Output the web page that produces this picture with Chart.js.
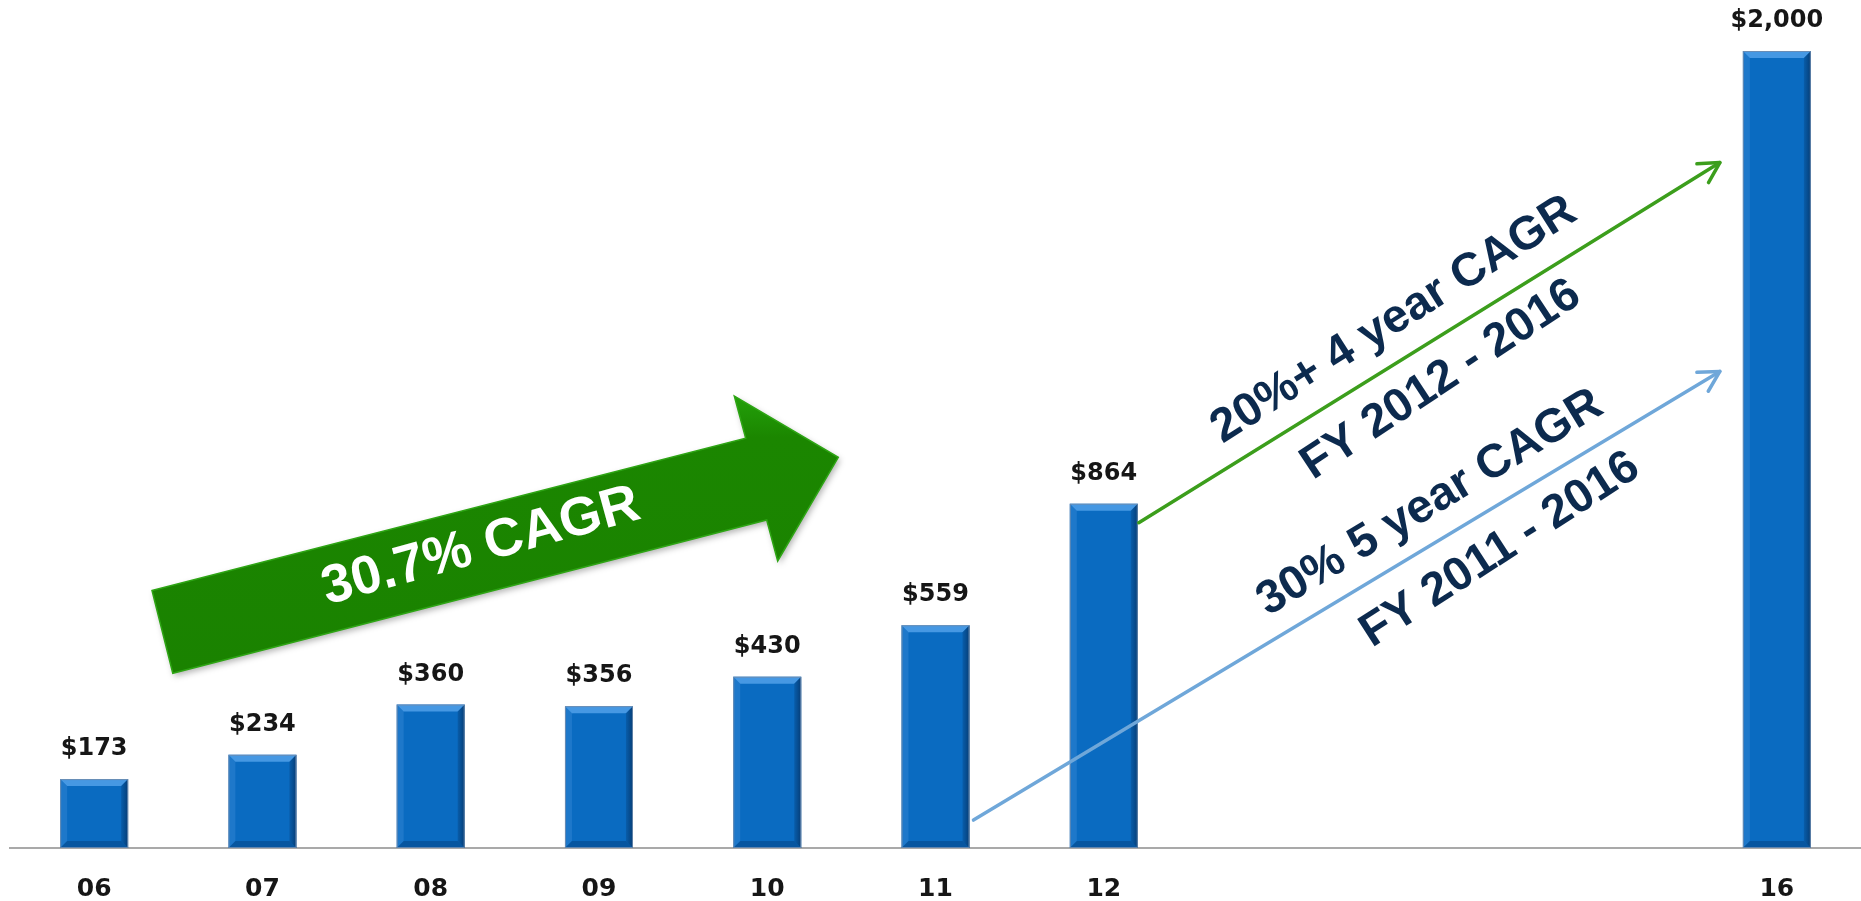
<!DOCTYPE html>
<html>
<head>
<meta charset="utf-8">
<script src="https://cdn.jsdelivr.net/npm/chart.js@4.4.1/dist/chart.umd.min.js"></script>
<style>
  html, body { margin: 0; padding: 0; background: #fff; }
  #wrap { width: 1861px; height: 901px; position: relative; }
</style>
</head>
<body>
<div id="wrap"><canvas id="myChart"></canvas></div>
<script>
// fiscal years, 13-15 left empty as in the original slide
var years = ["06", "07", "08", "09", "10", "11", "12", "", "", "", "16"];
var revenue = [173, 234, 360, 356, 430, 559, 864, null, null, null, 2000];
var yMax = 2000;

var bigArrowText = "30.7% CAGR";
var growthNotes = [
  { text: "20%+ 4 year CAGR", x: 1394, y: 320, angle: -32.3 },
  { text: "FY 2012 - 2016", x: 1441, y: 380, angle: -33.5 },
  { text: "30% 5 year CAGR", x: 1430, y: 503, angle: -31.2 },
  { text: "FY 2011 - 2016", x: 1500, y: 550, angle: -32.8 }
];

function money(v) {
  return "$" + v.toLocaleString("en-US");
}

// bevel look on the bars + value labels above them
var barDecor = {
  id: "barDecor",
  afterDatasetsDraw: function (chart) {
    var ctx = chart.ctx;
    var meta = chart.getDatasetMeta(0);
    meta.data.forEach(function (bar, i) {
      var v = revenue[i];
      if (v == null) return;
      var l = bar.x - bar.width / 2, r = bar.x + bar.width / 2;
      var t = bar.y, b = bar.base, e = 7;
      ctx.save();
      // top
      ctx.fillStyle = "rgba(120,190,255,0.55)";
      ctx.beginPath();
      ctx.moveTo(l, t); ctx.lineTo(r, t); ctx.lineTo(r - e, t + e); ctx.lineTo(l + e, t + e);
      ctx.closePath(); ctx.fill();
      // left
      ctx.fillStyle = "rgba(90,160,230,0.25)";
      ctx.beginPath();
      ctx.moveTo(l, t); ctx.lineTo(l + e, t + e); ctx.lineTo(l + e, b - e); ctx.lineTo(l, b);
      ctx.closePath(); ctx.fill();
      // right
      var g = ctx.createLinearGradient(r - e, 0, r, 0);
      g.addColorStop(0, "rgba(3,50,100,0.25)");
      g.addColorStop(1, "rgba(3,40,85,0.7)");
      ctx.fillStyle = g;
      ctx.beginPath();
      ctx.moveTo(r, t); ctx.lineTo(r, b); ctx.lineTo(r - e, b - e); ctx.lineTo(r - e, t + e);
      ctx.closePath(); ctx.fill();
      // bottom
      ctx.fillStyle = "rgba(3,50,100,0.35)";
      ctx.beginPath();
      ctx.moveTo(l, b); ctx.lineTo(r, b); ctx.lineTo(r - e, b - e); ctx.lineTo(l + e, b - e);
      ctx.closePath(); ctx.fill();
      ctx.strokeStyle = "rgba(110,140,175,0.9)";
      ctx.lineWidth = 1;
      ctx.strokeRect(l + 0.5, t + 0.5, bar.width - 1, b - t - 1);

      ctx.fillStyle = "#161616";
      ctx.font = "bold 24px 'DejaVu Sans'";
      ctx.textAlign = "center";
      ctx.textBaseline = "alphabetic";
      ctx.fillText(money(v), bar.x, t - 24);
      ctx.restore();
    });
  }
};

function lineArrow(ctx, x1, y1, x2, y2, color) {
  var a = Math.atan2(y2 - y1, x2 - x1);
  ctx.save();
  ctx.strokeStyle = color;
  ctx.lineWidth = 3.5;
  ctx.lineCap = "round";
  ctx.lineJoin = "round";
  ctx.beginPath();
  ctx.moveTo(x1, y1);
  ctx.lineTo(x2, y2);
  ctx.stroke();
  ctx.beginPath();
  ctx.moveTo(x2 - 23 * Math.cos(a - 0.5), y2 - 23 * Math.sin(a - 0.5));
  ctx.lineTo(x2, y2);
  ctx.lineTo(x2 - 23 * Math.cos(a + 0.5), y2 - 23 * Math.sin(a + 0.5));
  ctx.stroke();
  ctx.restore();
}

var notes = {
  id: "notes",
  afterDraw: function (chart) {
    var ctx = chart.ctx;
    var meta = chart.getDatasetMeta(0);
    var ys = chart.scales.y;

    // big green arrow
    ctx.save();
    ctx.shadowColor = "rgba(0,0,0,0.3)";
    ctx.shadowBlur = 6;
    ctx.shadowOffsetX = 2;
    ctx.shadowOffsetY = 3;
    var grd = ctx.createLinearGradient(0, 396, 0, 673);
    grd.addColorStop(0, "#23a00a");
    grd.addColorStop(0.15, "#1b8600");
    grd.addColorStop(1, "#1a8200");
    ctx.fillStyle = grd;
    ctx.beginPath();
    ctx.moveTo(152, 590.5);
    ctx.lineTo(745.7, 438.3);
    ctx.lineTo(734.3, 396);
    ctx.lineTo(838.3, 457.3);
    ctx.lineTo(777.7, 561);
    ctx.lineTo(766.7, 520);
    ctx.lineTo(172.8, 673.3);
    ctx.closePath();
    ctx.fill();
    ctx.shadowColor = "transparent";
    ctx.strokeStyle = "#2ea514";
    ctx.lineWidth = 1.5;
    ctx.stroke();
    ctx.restore();

    ctx.save();
    ctx.translate(481, 547);
    ctx.rotate(-15.3 * Math.PI / 180);
    ctx.fillStyle = "#ffffff";
    ctx.font = "bold 54px 'Liberation Sans'";
    ctx.textAlign = "center";
    ctx.textBaseline = "middle";
    ctx.fillText(bigArrowText, 0, 0);
    ctx.restore();

    // thin growth arrows towards FY16
    var b12 = meta.data[6], b11 = meta.data[5], b16 = meta.data[10];
    var tipX = b16.x - b16.width / 2 - 23;
    lineArrow(ctx, b12.x + b12.width / 2 + 1, b12.y + 19, tipX, ys.getPixelForValue(1720), "#3c9e1c");
    lineArrow(ctx, b11.x + b11.width / 2 + 4, ys.getPixelForValue(70), tipX, ys.getPixelForValue(1196), "#6fa7d9");

    ctx.save();
    ctx.fillStyle = "#0c2a4e";
    ctx.font = "bold 47px 'Liberation Sans'";
    ctx.textAlign = "center";
    ctx.textBaseline = "middle";
    growthNotes.forEach(function (n) {
      ctx.save();
      ctx.translate(n.x, n.y);
      ctx.rotate(n.angle * Math.PI / 180);
      ctx.fillText(n.text, 0, 0);
      ctx.restore();
    });
    ctx.restore();
  }
};

new Chart("myChart", {
  type: "bar",
  data: {
    labels: years,
    datasets: [{
      data: revenue,
      backgroundColor: "#0a6bc1",
      borderWidth: 0,
      barPercentage: 0.404,
      categoryPercentage: 1
    }]
  },
  options: {
    responsive: true,
    maintainAspectRatio: false,
    animation: false,
    layout: { padding: { top: 51, left: 10, right: 0, bottom: -29 } },
    plugins: {
      legend: { display: false },
      tooltip: { enabled: false }
    },
    scales: {
      x: {
        offset: true,
        grid: { display: false, drawTicks: false },
        border: { display: true, color: "#a9a9a9", width: 2 },
        ticks: {
          color: "#161616",
          padding: 28,
          font: { family: "'DejaVu Sans'", weight: "bold", size: 25, lineHeight: 1.04 }
        }
      },
      y: {
        display: false,
        min: 0,
        max: yMax
      }
    }
  },
  plugins: [barDecor, notes]
});
</script>
</body>
</html>
